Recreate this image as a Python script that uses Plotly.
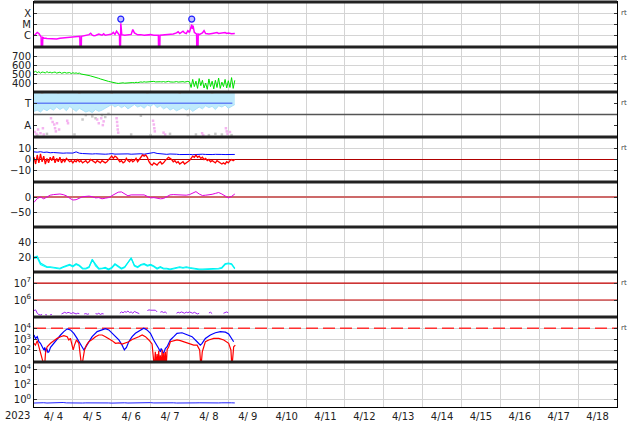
import pandas as pd
import plotly.graph_objects as go
from plotly.subplots import make_subplots

START = pd.Timestamp("2023-04-04 00:00")
END = pd.Timestamp("2023-04-19 00:00")

# ---------------- data ----------------
# Panel 1: X-ray flux, log10(W/m^2)
xray_hours = [0, 1, 2, 3, 4, 4.4, 4.6, 5.2, 5.4, 6, 8, 10, 12, 14, 16, 18, 20, 22, 24, 26,
              28.3, 28.5, 29.1, 29.3, 30, 32, 34, 35, 36, 37, 38, 40, 42, 43, 44, 46, 48, 49, 50, 51,
              52, 52.8, 53.0, 53.3, 53.6, 53.9, 54.2, 56, 58, 60, 61, 62, 64, 66, 68, 70, 72, 74,
              76.8, 77.0, 77.6, 77.8, 80, 82, 84, 86, 88, 89, 90, 91, 92, 93, 94, 95, 96, 97,
              97.4, 97.8, 98.2, 99, 100.4, 100.6, 101.2, 101.4, 102, 104, 105, 106, 108, 110, 112,
              113, 114, 116, 118, 119, 120, 122, 124]
xray_log = [-6.0, -5.85, -5.7, -5.8, -6.05, -6.1, -8, -8, -6.15, -6.2, -6.25, -6.28, -6.25, -6.28,
            -6.22, -6.2, -6.15, -6.12, -6.1, -6.08, -6.05, -8, -8, -6.05, -6.02, -6.0, -5.9, -5.78,
            -5.95, -6.0, -5.98, -5.85, -5.95, -5.82, -5.95, -5.9, -5.85, -5.7, -5.88, -5.6, -5.75,
            -5.95, -8, -8, -4.9, -5.5, -5.9, -5.95, -5.92, -5.88, -5.45, -5.75, -5.92, -5.9, -5.95,
            -5.92, -5.9, -5.95, -5.95, -8, -8, -5.95, -5.92, -5.9, -5.88, -5.85, -5.75, -5.65, -5.8,
            -5.7, -5.6, -5.75, -5.8, -5.55, -5.7, -5.2, -5.0, -5.4, -5.1, -5.7, -5.85, -8, -8, -5.85,
            -5.9, -5.75, -5.55, -5.8, -5.85, -5.8, -5.7, -5.72, -5.8, -5.75, -5.72, -5.8, -5.75,
            -5.82, -5.8]
flare_hours = [53.6, 97.4]
flare_log = [-4.52, -4.52]
xray_tick_vals = [1e-4, 1e-5, 1e-6]
xray_tick_text = ["X", "M", "C"]

# Panel 2: solar wind speed (km/s), hourly
speed = [520, 530, 515, 525, 510, 522, 518, 512, 526, 515, 520,
         512, 518, 522, 510, 516, 520, 508, 514, 518, 510,
         512, 516, 505, 514, 508, 512, 506, 510, 500, 498,
         495, 492, 488, 483, 478, 474, 470, 466, 462, 452,
         445, 438, 432, 426, 422, 418, 414, 408, 402, 398,
         398, 395, 400, 397, 402, 398, 400, 403, 399, 402,
         405, 402, 408, 404, 410, 412, 408, 414, 410, 412,
         416, 410, 414, 418, 412, 415, 410, 414, 412, 416,
         410, 413, 418, 412, 415, 410, 412, 416, 410, 414,
         412, 415, 410, 413, 418, 412,
         350, 440, 360, 420, 340, 450, 370, 430, 345, 400, 330, 445, 360, 420,
         335, 430, 350, 455, 340, 410, 360, 440, 345, 425, 350, 460, 340, 430]

# Panel 3: IMF sector (degrees), 2-hourly band edges
sector_low = [205, 215, 200, 225, 210, 230, 215, 240, 220, 235,
              210, 245, 225, 205, 230, 215, 200, 210, 195, 220,
              205, 215, 230, 250, 260, 240, 255, 235, 250, 225,
              245, 260, 240, 250, 230, 255, 245, 265, 235, 250,
              225, 240, 215, 230, 210, 225, 235, 215, 230, 205,
              220, 240, 225, 250, 235, 245, 220, 250, 240, 255,
              230, 245, 260]
sector_high = [356, 360, 354, 358, 352, 360, 355, 357, 351, 359,
               354, 358, 356, 360, 353, 357, 355, 359, 352, 358,
               356, 360, 354, 357, 353, 359, 355, 358, 352, 360,
               356, 358, 354, 360, 353, 357, 355, 359, 352, 358,
               356, 360, 354, 357, 353, 359, 355, 358, 352, 360,
               356, 358, 354, 360, 353, 357, 355, 359, 352, 358,
               356, 360, 354]
sector_line_hours = [0, 122.5]
sector_line_deg = [270, 270]
pink_hours = [0.5, 1.5, 2.5, 4.0, 5.5, 6.0, 10.5, 11.5, 12.5, 13.0, 13.5, 14.2, 15.5, 20.5, 21.0,
              39.0, 40.0, 41.5, 42.5, 43.0, 51.0, 51.3, 51.5, 51.7, 52.0, 73.5, 74.0, 74.3, 74.6,
              80.0, 81.0, 103.8, 104.5, 118.5, 119.0, 119.5, 121.0]
pink_deg = [40, 25, 60, 30, 70, 20, 150, 120, 100, 70, 45, 110, 60, 130, 110,
            140, 110, 150, 95, 125, 150, 120, 90, 60, 35, 130, 100, 70, 45,
            35, 20, 30, 15, 70, 45, 25, 40]
gray_hours = [2, 8, 25, 30, 32, 36, 38, 42, 44, 46, 60, 66, 72, 84, 95, 100, 108, 112, 116, 122,
              5, 15, 28, 48, 70, 90, 110]
gray_deg = [15, 25, 20, 140, 175, 165, 150, 175, 160, 185, 20, 170, 15, 25, 175, 20, 15, 25, 20, 15,
            355, 358, 356, 355, 358, 356, 357]
sector_tick_vals = [270, 90]
sector_tick_text = ["T", "A"]
sector_divider = [180]

# Panel 4: IMF Bt (2-hourly) and Bz (hourly), nT
bt = [6.8, 6.5, 6.9, 6.3, 6.6, 6.0, 6.2, 5.8, 6.0, 5.6,
      5.8, 5.5, 5.7, 6.8, 5.6, 5.3, 5.0, 5.2, 4.9, 5.1,
      4.8, 5.0, 4.7, 4.9, 5.2, 4.8, 5.0, 4.6, 4.8, 5.0,
      4.7, 4.9, 4.8, 5.1, 4.7, 5.0, 5.3, 6.2, 5.4, 5.0,
      4.8, 4.6, 4.9, 4.5, 4.7, 4.4, 4.6, 4.8, 4.5, 4.3,
      4.6, 4.4, 4.7, 4.5, 4.2, 4.4, 4.6, 4.3, 4.5, 4.4,
      4.6, 4.3, 4.5]
bz = [2, -4, 4, -3, 5, -2, 3, -4, 1, -3, 2,
      -1, 3, -3, 1, -2, 2, -3, 0, -2, 1,
      -1, -2, -1, -3, -1, -2, 0, -2, -1, -3,
      -2, -1, -3, -2, 0, -1, -2, -3, -1, -2,
      -3, -1, -2, -3, -2, 0, 2, 3, 1, 3,
      2, 0, -2, -1, -3, -2, 1, -1, -2, 0,
      -2, -1, 1, -2, 0, 2, 4, 3, 4, 2,
      -2, -4, -5, -3, -4, -5, -3, -2, -4, -3,
      -1, 1, 2, 1, 0, -2, -1, -3, -2, -4,
      -3, -2, -4, -3, -2, -1, 1, 3, 2, 4,
      2, 3, 1, 2, 0, 1, -1, 0, -2, -1,
      -2, -3, -1, -2, -3, -4, -3, -4, -2, -3,
      -1, 0, -1, 0]
bz_ref = [0]

# Panel 5: Dst (nT), 2-hourly
dst = [-18, -5, 0, -6, 0, 6, 8, 10, 10, 8,
       4, -4, -10, -9, -3, 1, 2, 3, 1, -3,
       -2, -6, -4, -2, 4, 10, 16, 17, 10, 4,
       7, 7, 5, 7, 7, 2, -3, -2, -4, -6,
       -5, 0, 7, 8, 7, 8, 6, 6, 8, 14,
       18, 10, 5, 6, 7, 9, 12, 15, 10, 3,
       -3, 2, 10]
dst_ref = [0]

# Panel 6: two density traces, 2-hourly
dens_a = [18, 19, 10, 8, 6, 6, 5, 4, 4, 6, 8, 9, 7, 10, 8, 4, 4, 6, 17, 8,
          4, 4, 5, 3, 5, 10, 7, 4, 6, 12, 19, 8, 6, 9, 10, 8, 9, 7, 4, 6,
          4, 4, 3, 4, 5, 6, 5, 6, 5, 4, 3, 3, 3, 3, 3, 3, 3.5, 4, 5, 10,
          11, 10, 4]
dens_b = [20, 21, 12, 9, 7, 7, 6, 5, 5, 7, 9, 10, 8, 11, 9, 5, 5, 7, 16, 10,
          5, 5, 6, 4, 6, 11, 8, 5, 7, 13, 18, 9, 7, 10, 11, 9, 10, 8, 5, 7,
          5, 5, 4, 5, 6, 7, 6, 7, 6, 5, 4, 4, 4, 4, 4, 4, 4.5, 5, 6, 11,
          12, 11, 5]

# Panel 7: proton flux, log10, hourly (None = gap)
proton_log = [5.38, 5.42, 5.22, 5.14, 5.12, 5.15, None, 5.14, 5.12, None,
              5.13, 5.15, None, None, None, None, None, 5.18, 5.24, 5.28,
              5.22, 5.27, 5.25, 5.2, 5.26, 5.22, 5.18, 5.22, 5.2, None,
              None, 5.18, 5.2, 5.16, 5.19, None, None, None, 5.2, 5.17,
              5.22, 5.15, 5.2, 5.18, None, None, None, None, None, None,
              None, None, None, 5.22, 5.3, 5.25, 5.32, 5.28, 5.35, 5.26,
              5.3, 5.22, 5.33, 5.28, 5.24, 5.2, None, None, None, None,
              5.38, 5.42, 5.4, 5.41, 5.38, 5.4, 5.3, None, 5.28, 5.32,
              5.26, 5.3, 5.22, None, None, None, None, None, 5.22, 5.28,
              5.24, 5.3, 5.26, 5.22, 5.29, 5.25, 5.3, 5.27, 5.22, 5.28,
              5.24, 5.18, 5.22, None, None, None, None, None, 5.24, 5.28,
              5.2, None, None, None, None, None, None, 5.22, 5.28, 5.3,
              5.24, None, None, None, None]
proton_thresholds = [1e6, 1e7]

# Panel 8: electron flux, log10
eb_hours = [0, 0.9, 2.0, 3.0, 4.0, 5.0, 6.1, 6.6, 7.1, 7.6, 8.1, 8.6, 9.2, 10.2, 12.2, 14.3, 16.4,
            18.4, 20.5, 22.5, 24.6, 26.6, 28.7, 29.2, 29.7, 30.3, 30.8, 31.8, 33.8, 35.9, 39.0,
            42.1, 44.1, 46.2, 49.3, 52.4, 54.4, 55.2, 55.8, 56.5, 57.1, 58.5, 60.6, 62.6, 65.7,
            67.8, 69.8, 71.9, 73.9, 76.0, 77.0, 78.0, 78.5, 79.1, 79.6, 80.1, 80.6, 81.1, 82.2,
            84.2, 86.3, 88.3, 91.4, 94.5, 97.6, 100.7, 102.7, 103.8, 105.8, 108.9, 112.0, 115.1,
            118.2, 120.2, 122.3, 123.3]
eb_log = [3.4, 3.1, 3.25, 2.8, 2.66, 2.36, 2.07, 2.3, 1.9, 2.2, 2.1, 1.85, 1.9, 2.3, 2.66, 3.1,
          3.4, 3.7, 3.95, 3.85, 3.55, 3.1, 2.6, 2.4, 2.3, 2.1, 2.07, 2.3, 2.8, 3.25, 3.7, 3.9,
          3.96, 3.85, 3.4, 2.96, 2.5, 2.3, 2.07, 2.2, 2.3, 2.8, 3.25, 3.55, 3.85, 4.0, 3.85,
          3.55, 2.96, 2.5, 2.2, 1.9, 2.2, 2.07, 1.8, 1.8, 2.1, 2.2, 2.36, 2.96, 3.25, 3.55, 3.6,
          3.4, 3.25, 2.8, 2.5, 2.66, 3.1, 3.4, 3.6, 3.7, 3.65, 3.5, 2.96, 2.8]
er_hours = [0, 0.9, 2.0, 3.0, 4.0, 5.0, 5.7, 6.5, 7.1, 8.1, 10.2, 12.2, 14.3, 16.4, 18.4, 20.5,
            21.5, 22.5, 23.6, 24.2, 25.0, 26.2, 27.7, 28.7, 29.5, 30.3, 31.2, 32.4, 33.8, 35.9,
            38.0, 40.0, 42.1, 44.1, 46.2, 48.2, 50.3, 52.4, 54.4, 56.5, 58.5, 60.6, 62.6, 64.7,
            66.8, 68.8, 70.9, 72.9, 74.3, 74.9, 75.5, 76.0, 76.5, 77.0, 77.5, 78.0, 78.5, 79.1,
            79.6, 80.1, 80.6, 81.1, 81.6, 82.2, 83.2, 84.2, 86.3, 88.3, 90.4, 92.4, 94.5, 96.6,
            98.6, 100.7, 102.3, 103.1, 103.9, 105.8, 107.9, 111.0, 114.1, 117.2, 120.2, 121.6,
            122.2, 123.3, 124.3]
er_log = [2.66, 2.5, 2.9, 2.36, 1.65, 1.1, 0.5, 0.5, 1.8, 2.36, 2.66, 2.9, 3.1, 3.25, 3.35, 3.25,
          2.96, 3.1, 2.36, 2.07, 2.5, 2.96, 2.66, 1.15, 0.5, 1.3, 2.07, 2.5, 2.8, 3.0,
          3.25, 3.4, 3.4, 3.25, 3.1, 2.9, 2.66, 2.7, 2.6, 2.7, 2.8, 3.0, 3.1, 3.25,
          3.4, 3.25, 2.96, 2.6, 0.5, 1.9, 0.5, 1.7, 0.5, 2.0, 0.5, 1.6, 0.5, 2.07,
          0.5, 1.8, 0.5, 1.9, 0.5, 2.1, 2.36, 2.8, 2.9, 2.96, 2.9, 2.8, 2.66, 2.6,
          2.5, 2.5, 2.07, 0.5, 1.9, 2.8, 2.96, 3.1, 3.1, 2.96, 2.66, 2.07,
          0.5, 2.36, 2.5]
electron_threshold = [1e4]

# Panel 9: low flux, log10, 2-hourly
low_log = [-0.47, -0.44, -0.46, -0.43, -0.47, -0.45, -0.42, -0.46, -0.44, -0.40,
           -0.45, -0.47, -0.44, -0.46, -0.43, -0.47, -0.45, -0.44, -0.46, -0.43,
           -0.47, -0.45, -0.44, -0.46, -0.48, -0.45, -0.43, -0.46, -0.44, -0.47,
           -0.45, -0.43, -0.46, -0.44, -0.47, -0.45, -0.42, -0.46, -0.44, -0.47,
           -0.45, -0.43, -0.46, -0.44, -0.47, -0.45, -0.44, -0.46, -0.43, -0.47,
           -0.45, -0.44, -0.46, -0.43, -0.47, -0.45, -0.44, -0.46, -0.44, -0.47,
           -0.45, -0.44, -0.46]

# ---------------- helpers ----------------
def at_hours(hours):
    return [START + pd.Timedelta(hours=float(h)) for h in hours]


def every(values, step):
    return at_hours([i * step for i in range(len(values))])


def pow10(vals):
    return [None if v is None else 10.0 ** v for v in vals]


FULL = [START, END]
FONT = dict(family="DejaVu Sans", size=10, color="#222222")
GRID = "#d4d4d4"

fig = make_subplots(rows=9, cols=1, shared_xaxes=True, vertical_spacing=0)


def line(x, y, color, width, row, dash=None, **kw):
    fig.add_trace(go.Scatter(x=x, y=y, mode="lines",
                             line=dict(color=color, width=width, dash=dash),
                             hoverinfo="skip", **kw), row=row, col=1)


# Panel 1
line(at_hours(xray_hours), pow10(xray_log), "#ff00ff", 1.5, 1)
fig.add_trace(go.Scatter(x=at_hours(flare_hours), y=pow10(flare_log), mode="markers",
                         marker=dict(symbol="circle", size=6, color="rgba(170,170,255,0.7)",
                                     line=dict(color="#2020ff", width=1.2)),
                         hoverinfo="skip"), row=1, col=1)
# Panel 2
line(every(speed, 1), speed, "#00e000", 1, 2)
# Panel 3
line(every(sector_high, 2), sector_high, "rgba(0,0,0,0)", 0, 3)
fig.add_trace(go.Scatter(x=every(sector_low, 2), y=sector_low, mode="lines", fill="tonexty",
                         fillcolor="rgb(190,234,252)", line=dict(color="rgb(170,225,250)", width=1),
                         hoverinfo="skip"), row=3, col=1)
fig.add_trace(go.Scatter(x=at_hours(gray_hours), y=gray_deg, mode="markers",
                         marker=dict(symbol="square", size=2.5, color="rgb(200,200,200)"),
                         hoverinfo="skip"), row=3, col=1)
fig.add_trace(go.Scatter(x=at_hours(pink_hours), y=pink_deg, mode="markers",
                         marker=dict(symbol="square", size=2.5, color="rgb(245,180,240)"),
                         hoverinfo="skip"), row=3, col=1)
line(at_hours(sector_line_hours), sector_line_deg, "rgb(100,130,245)", 1.6, 3)
line(FULL, sector_divider * 2, "#555555", 1.5, 3)
# Panel 4
line(FULL, bz_ref * 2, "#b00000", 1, 4)
line(every(bt, 2), bt, "#0000ff", 1, 4)
line(every(bz, 1), bz, "#ff0000", 1.3, 4)
# Panel 5
line(FULL, dst_ref * 2, "rgb(205,105,105)", 2, 5)
line(every(dst, 2), dst, "#e000e0", 1, 5)
# Panel 6
line(every(dens_a, 2), dens_a, "#00ffff", 1.2, 6)
line(every(dens_b, 2), dens_b, "#00f0f0", 1.2, 6)
# Panel 7
for th in proton_thresholds:
    line(FULL, [th, th], "#c80000", 1.2, 7)
line(every(proton_log, 1), pow10(proton_log), "#a020f0", 1, 7, connectgaps=False)
# Panel 8
line(FULL, electron_threshold * 2, "#ff3030", 1.3, 8, dash="12px,5px")
line(at_hours(eb_hours), pow10(eb_log), "#0000ff", 1.2, 8)
line(at_hours(er_hours), pow10(er_log), "#ff0000", 1.2, 8)
# Panel 9
line(every(low_log, 2), pow10(low_log), "#2020ff", 1, 9)

# ---------------- axes ----------------
for r in range(1, 10):
    fig.update_xaxes(row=r, col=1, type="date", range=FULL, tick0=START, dtick=86400000,
                     showgrid=True, gridcolor=GRID, gridwidth=1, showline=True,
                     linecolor="black", linewidth=1, mirror=True, ticks="",
                     zeroline=False, showticklabels=False, fixedrange=True)
fig.update_xaxes(row=9, col=1, showticklabels=True, ticklabelmode="period",
                 tickformat="%-m/%e", tickfont=FONT)

yax_common = dict(showline=True, linecolor="black", linewidth=1, mirror="ticks",
                  ticks="inside", ticklen=3, tickcolor="#333", gridcolor=GRID,
                  zeroline=False, tickfont=FONT, fixedrange=True)
sup = lambda e: "10<sup>%d</sup>" % e
ycfg = {
    1: dict(type="log", range=[-7, -3], tickvals=xray_tick_vals, ticktext=xray_tick_text),
    2: dict(range=[300, 800], tickvals=[400, 500, 600, 700]),
    3: dict(range=[0, 360], tickvals=sector_tick_vals, ticktext=sector_tick_text, showgrid=False),
    4: dict(range=[-20, 20], tickvals=[10, 0, -10]),
    5: dict(range=[-100, 50], tickvals=[0, -50]),
    6: dict(range=[0, 60], tickvals=[20, 40]),
    7: dict(type="log", range=[5, 7.65], tickvals=[1e6, 1e7], ticktext=[sup(6), sup(7)]),
    8: dict(type="log", range=[1, 5], tickvals=[1e2, 1e3, 1e4], ticktext=[sup(2), sup(3), sup(4)]),
    9: dict(type="log", range=[-1, 5], tickvals=[1, 1e2, 1e4], ticktext=[sup(0), sup(2), sup(4)]),
}
for r, cfg in ycfg.items():
    fig.update_yaxes(row=r, col=1, **yax_common, **cfg)

# panel separators
shapes = []
for k in range(0, 9):
    shapes.append(dict(type="line", xref="paper", yref="paper", x0=0, x1=1,
                       y0=1 - k / 9, y1=1 - k / 9, line=dict(color="#222222", width=3)))

annotations = [dict(text="2023", xref="paper", yref="paper", x=-0.028, y=-0.022,
                    xanchor="center", yanchor="middle", showarrow=False, font=FONT)]
for k in [0, 1, 2, 3, 6, 7]:
    annotations.append(dict(text="rt", xref="paper", yref="paper", x=1.004, y=1 - k / 9 - 0.027,
                            xanchor="left", yanchor="middle", showarrow=False,
                            font=dict(family="DejaVu Sans", size=7, color="#444")))

fig.update_layout(width=634, height=424, margin=dict(l=34, r=17, t=2, b=17),
                  paper_bgcolor="white", plot_bgcolor="white", showlegend=False,
                  shapes=shapes, annotations=annotations, font=FONT)

fig.write_html("out.html", config={"displayModeBar": False, "staticPlot": True},
               post_script="document.body.style.margin='0';")
